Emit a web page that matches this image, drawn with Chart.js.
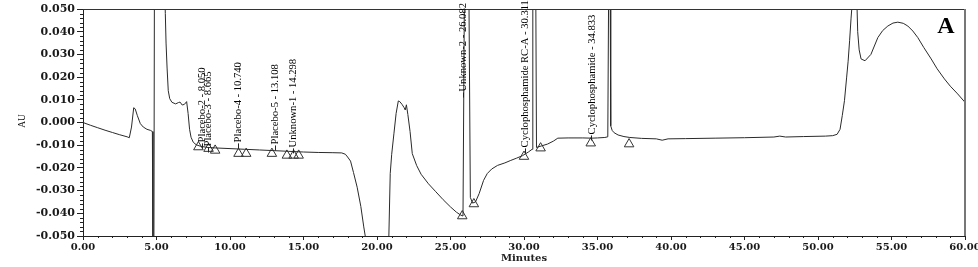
<!DOCTYPE html>
<html><head><meta charset="utf-8">
<style>html,body{margin:0;padding:0;background:#fff;}#wrap{width:978px;height:267px;position:relative;}</style>
<script src="https://cdn.jsdelivr.net/npm/chart.js@4.4.0/dist/chart.umd.min.js"></script>
</head><body><div id="wrap"><canvas id="c" width="978" height="267"></canvas></div>
<script>
// ---- Chromatogram trace (minutes, AU) ----
const timeMin = [
 0.0,0.5,1.0,1.5,2.0,2.5,3.0,3.15,3.3,3.45,3.55,3.7,3.9,4.1,4.35,4.6,4.72,4.76,4.82,4.86,5.2,5.55,
 5.6,5.65,5.72,5.8,5.9,6.05,6.3,6.5,6.6,6.75,6.9,7.05,7.15,7.25,7.35,7.5,7.7,8.0,8.5,9.0,10.0,11.0,12.0,13.0,14.0,15.0,16.0,17.0,17.6,
 17.85,18.0,18.2,18.4,18.65,18.9,19.1,19.25,20.0,20.8,20.9,21.0,21.15,21.3,21.45,21.55,21.7,21.85,21.92,22.0,22.1,22.25,22.4,22.7,23.0,23.5,24.0,24.5,25.0,25.4,25.7,25.85,
 25.95,26.1,26.25,26.35,26.5,26.7,26.95,27.25,27.5,27.8,28.2,28.7,29.1,29.5,29.9,30.3,30.55,30.6,30.7,30.8,30.85,31.2,31.6,32.0,32.3,33.0,34.0,34.6,35.0,35.5,35.7,
 35.76,35.8,35.86,35.9,36.0,36.13,36.4,36.8,37.2,38.0,39.0,39.4,39.8,41.0,43.0,45.0,47.0,47.4,47.8,49.0,50.5,51.0,51.3,51.5,51.65,51.8,51.95,52.05,52.15,52.25,52.32,
 52.5,52.65,52.7,52.8,52.93,53.2,53.6,54.07,54.4,54.75,55.1,55.43,55.8,56.11,56.45,56.79,57.2,57.7,58.1,58.6,59.0,59.5,60.0
];
const absorbanceAU = [
 0.0,-0.0012,-0.0023,-0.0034,-0.0044,-0.0054,-0.0063,-0.0067,-0.002,0.0065,0.006,0.003,-0.0005,-0.002,-0.003,-0.0035,-0.004,-0.07,-0.07,0.07,0.09,0.06,
 0.048,0.035,0.024,0.014,0.0105,0.0089,0.0082,0.0088,0.009,0.0077,0.008,0.0092,0.004,-0.003,-0.0065,-0.0087,-0.0098,-0.0105,-0.011,-0.0112,-0.0115,-0.0118,-0.0121,-0.0124,-0.0127,-0.013,-0.0132,-0.0133,-0.0134,
 -0.014,-0.0152,-0.017,-0.022,-0.0285,-0.037,-0.046,-0.052,-0.07,-0.052,-0.0225,-0.014,-0.005,0.004,0.0095,0.0092,0.008,0.0065,0.0055,0.0078,0.0035,-0.004,-0.0137,-0.019,-0.0228,-0.027,-0.0305,-0.034,-0.0372,-0.0395,-0.0408,-0.0412,
 0.06,0.08,0.06,-0.033,-0.0355,-0.035,-0.0313,-0.0255,-0.0225,-0.0205,-0.0189,-0.0178,-0.0167,-0.0157,-0.0146,-0.013,-0.0118,0.06,0.08,0.06,-0.011,-0.0103,-0.0095,-0.0082,-0.0069,-0.0068,-0.0068,-0.0069,-0.0068,-0.0066,-0.0063,
 0.06,0.09,0.06,-0.0015,-0.0035,-0.0045,-0.0055,-0.0062,-0.0066,-0.007,-0.0072,-0.0078,-0.0072,-0.0071,-0.0069,-0.0067,-0.0064,-0.006,-0.0064,-0.0062,-0.006,-0.0058,-0.0052,-0.003,0.003,0.0096,0.02,0.027,0.036,0.046,0.052,
 0.06,0.052,0.04,0.032,0.028,0.0272,0.03,0.0374,0.0405,0.0425,0.0438,0.0442,0.0437,0.0425,0.0403,0.0374,0.033,0.028,0.0237,0.0192,0.016,0.0126,0.0089
];
// ---- Integration markers (triangles) ----
const markerTimes = [7.85,8.54,8.99,10.58,11.1,12.85,13.87,14.33,14.67,25.8,26.59,30.0,31.13,34.54,37.15];
const markerAU    = [-0.0108,-0.0115,-0.0123,-0.0137,-0.0137,-0.0137,-0.0145,-0.0145,-0.0145,-0.0412,-0.0359,-0.015,-0.0113,-0.0091,-0.0095];
// ---- Peak labels ----
const peakNames = ["Placebo-2 - 8.050","Placebo-3 - 8.665","Placebo-4 - 10.740","Placebo-5 - 13.108","Unknown-1 - 14.298","Unknown-2 - 26.082","Cyclophosphamide RC-A - 30.311","Cyclophosphamide - 34.833"];
const peakLabelTimes = [8.07,8.48,10.52,13.05,14.27,25.85,30.07,34.57];
const peakLabelAU = [-0.0092,-0.011,-0.0092,-0.0101,-0.0114,0.0132,-0.0114,-0.0057];

const tracePts = timeMin.map((t,i)=>({x:t,y:absorbanceAU[i]}));
const markerPts = markerTimes.map((t,i)=>({x:t,y:markerAU[i]}));

const deco = {
  id:'deco',
  afterDatasetsDraw(chart){
    const ctx = chart.ctx, ca = chart.chartArea, xs = chart.scales.x, ys = chart.scales.y;
    ctx.save();
    ctx.strokeStyle = '#333'; ctx.lineWidth = 1;
    ctx.beginPath(); ctx.moveTo(ca.left, ca.top+0.5); ctx.lineTo(ca.right, ca.top+0.5); ctx.stroke();
    ctx.strokeStyle = '#777'; ctx.lineWidth = 2;
    ctx.beginPath(); ctx.moveTo(ca.right, ca.top); ctx.lineTo(ca.right, ca.bottom); ctx.stroke();
    ctx.strokeStyle = '#222'; ctx.lineWidth = 1;
    ctx.beginPath();
    for (let v=-50; v<=50; v+=2){
      if (v%10===0) continue;
      const py = Math.round(ys.getPixelForValue(v/1000))+0.5;
      ctx.moveTo(ca.left-3, py); ctx.lineTo(ca.left, py);
    }
    for (let m=0; m<=60; m++){
      if (m%5===0) continue;
      const px = Math.round(xs.getPixelForValue(m))+0.5;
      ctx.moveTo(px, ca.bottom); ctx.lineTo(px, ca.bottom+2);
    }
    ctx.stroke();
    ctx.font = '11px "Liberation Serif"';
    const refW = ctx.measureText(peakNames[0]).width;
    const sx = 75/refW;
    ctx.fillStyle = '#000'; ctx.strokeStyle='#222'; ctx.lineWidth=1;
    peakNames.forEach((name,i)=>{
      const px = xs.getPixelForValue(peakLabelTimes[i]);
      const py = ys.getPixelForValue(peakLabelAU[i]);
      ctx.beginPath(); ctx.moveTo(Math.round(px)+0.5, py+5); ctx.lineTo(Math.round(px)+0.5, py); ctx.stroke();
      ctx.save();
      ctx.translate(px+0.5, py-1);
      ctx.rotate(-Math.PI/2);
      ctx.scale(sx,1);
      ctx.textAlign='left'; ctx.textBaseline='middle';
      ctx.fillText(name,0,0);
      ctx.restore();
    });
    ctx.fillStyle='#000';
    ctx.font='bold 24px "Liberation Serif"';
    ctx.textAlign='center'; ctx.textBaseline='alphabetic';
    ctx.fillText('A', 946, 33);
    ctx.save();
    ctx.translate(22,121); ctx.rotate(-Math.PI/2); ctx.scale(0.85,1);
    ctx.font='11px "Liberation Serif"'; ctx.textAlign='center'; ctx.textBaseline='middle';
    ctx.fillStyle='#111';
    ctx.fillText('AU',0,0);
    ctx.restore();
    ctx.font='bold 10px "DejaVu Serif"'; ctx.textAlign='center'; ctx.textBaseline='middle';
    ctx.fillStyle='#222';
    ctx.fillText('Minutes', (ca.left+ca.right)/2, 258);
    ctx.restore();
  }
};

new Chart(document.getElementById('c'), {
  type:'line',
  data:{datasets:[
    {data:tracePts, borderColor:'#2a2a2a', borderWidth:1, pointRadius:0, tension:0, fill:false},
    {data:markerPts, showLine:false, pointStyle:'triangle', pointRadius:5.5, pointBackgroundColor:'rgba(0,0,0,0)', pointBorderColor:'#333', pointBorderWidth:1}
  ]},
  options:{
    responsive:false, animation:false, devicePixelRatio:1,
    layout:{padding:{top:9,right:13,left:0,bottom:0}},
    plugins:{legend:{display:false}, tooltip:{enabled:false}},
    scales:{
      x:{type:'linear', min:0, max:60,
        ticks:{stepSize:5, autoSkip:false, maxRotation:0, padding:1, color:'#1a1a1a',
          font:{family:'DejaVu Serif', weight:'bold', size:10},
          callback:v=>Number(v).toFixed(2)},
        grid:{display:true, drawOnChartArea:false, drawTicks:true, tickLength:4, color:'#222'},
        border:{display:true, color:'#222', width:1},
        afterFit:s=>{s.height=31; s.paddingLeft=0; s.paddingRight=0;}
      },
      y:{type:'linear', min:-0.05, max:0.05,
        ticks:{stepSize:0.01, autoSkip:false, padding:2, color:'#1a1a1a',
          font:{family:'DejaVu Serif', weight:'bold', size:11},
          callback:v=>(Math.abs(v)<1e-9?0:v).toFixed(3)},
        grid:{display:true, drawOnChartArea:false, drawTicks:true, tickLength:6, color:'#222'},
        border:{display:true, color:'#222', width:1},
        afterFit:s=>{s.width=83; s.paddingTop=0; s.paddingBottom=0;}
      }
    }
  },
  plugins:[deco]
});
</script></body></html>
